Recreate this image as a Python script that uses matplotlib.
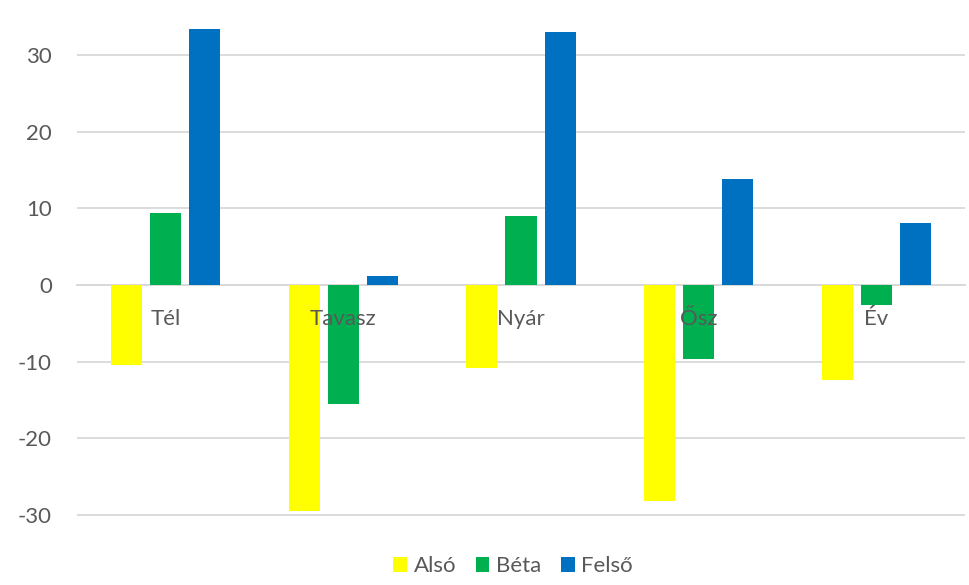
import numpy as np
import matplotlib.pyplot as plt
from matplotlib.patches import Patch

plt.rcParams['font.family'] = ['Lato', 'DejaVu Sans']
plt.rcParams['axes.unicode_minus'] = False

# adatok
evszakok = ['Tél', 'Tavasz', 'Nyár', 'Ősz', 'Év']
also = [-10.4, -29.5, -10.8, -28.2, -12.4]
beta = [9.4, -15.5, 9.0, -9.6, -2.6]
felso = [33.4, 1.2, 33.0, 13.8, 8.1]

szinek = ['#FFFF00', '#00B050', '#0070C0']
nevek = ['Alsó', 'Béta', 'Felső']

fig = plt.figure(figsize=(9.7, 5.85), dpi=100)
ax = fig.add_axes([0.0794, 0.094, 0.9154, 0.906])

x = np.arange(len(evszakok))
w = 0.175
for i, (ertek, szin) in enumerate(zip([also, beta, felso], szinek)):
    ax.bar(x + (i - 1) * 0.22, ertek, w, color=szin, zorder=3)

ax.set_xlim(-0.5, 4.5)
ax.set_ylim(-31.96, 37.2)
ax.set_yticks([-30, -20, -10, 0, 10, 20, 30])
ax.yaxis.grid(True, color='#D9D9D9', linewidth=1.3, zorder=0)

for s in ['top', 'right', 'left']:
    ax.spines[s].set_visible(False)
ax.spines['bottom'].set_position(('data', 0))
ax.spines['bottom'].set_color('#D9D9D9')
ax.spines['bottom'].set_linewidth(1.3)

ax.set_xticks(x)
ax.set_xticklabels(evszakok)
ax.tick_params(axis='x', length=0, pad=17, labelsize=16, labelcolor='#595959')
ax.tick_params(axis='y', length=0, pad=18, labelsize=16, labelcolor='#595959')
# kategórianevek az oszlopok felett
ax.xaxis.set_zorder(5)

handles = [Patch(facecolor=c, label=n) for c, n in zip(szinek, nevek)]
fig.legend(handles=handles, loc='center', bbox_to_anchor=(0.529, 0.032), ncol=3,
           frameon=False, fontsize=16, labelcolor='#595959', handlelength=0.6,
           handleheight=0.6, handletextpad=0.3, columnspacing=0.9)

fig.savefig('out.png', dpi=100)
